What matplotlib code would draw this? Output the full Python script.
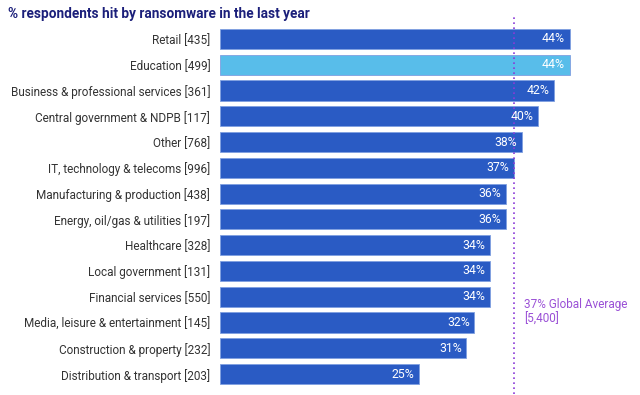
import matplotlib
matplotlib.use("Agg")
import matplotlib.pyplot as plt
from matplotlib.transforms import blended_transform_factory

plt.rcParams['font.family'] = ['Roboto', 'DejaVu Sans']

categories = ["Retail [435]", "Education [499]", "Business & professional services [361]",
              "Central government & NDPB [117]", "Other [768]", "IT, technology & telecoms [996]",
              "Manufacturing & production [438]", "Energy, oil/gas & utilities [197]",
              "Healthcare [328]", "Local government [131]", "Financial services [550]",
              "Media, leisure & entertainment [145]", "Construction & property [232]",
              "Distribution & transport [203]"]
values = [44, 44, 42, 40, 38, 37, 36, 36, 34, 34, 34, 32, 31, 25]
highlight = "Education [499]"
global_avg = 37
avg_label = "37% Global Average\n[5,400]"
title = "% respondents hit by ransomware in the last year"

W, H = 640, 395
fig = plt.figure(figsize=(W/100, H/100), dpi=100)
ax_left, ax_right = 220/W, 630/W
ax_top, ax_bot = 1 - 26/H, 1 - 387/H
ax = fig.add_axes([ax_left, ax_bot, ax_right - ax_left, ax_top - ax_bot])

dark = "#2a5bc4"
light = "#58bdea"
colors = [light if c == highlight else dark for c in categories]
y = list(range(len(categories)))
ax.barh(y, values, height=0.78, color=colors, edgecolor="#7fa0e0", linewidth=0.6)
ax.set_ylim(len(categories) - 0.5, -0.5)
ax.set_xlim(0, 410/7.95)

for yi, v in zip(y, values):
    ax.text(v - 0.6, yi, f"{v}%", ha="right", va="center", color="white", fontsize=8.8)

ax.set_yticks(y)
ax.set_yticklabels(categories, fontsize=8.5, color="#333333")
ax.tick_params(axis="y", length=0, pad=7)
ax.set_xticks([])
for s in ax.spines.values():
    s.set_visible(False)

trans = blended_transform_factory(ax.transData, ax.transAxes)
ax.plot([global_avg, global_avg], [-0.02, 1.03], transform=trans, clip_on=False,
        color="#8a3ad8", linestyle=(0, (1, 2)), linewidth=1.2)
ax.text(global_avg + 1.3, 10.6, avg_label, ha="left", va="center", color="#9a50d6",
        fontsize=8.5, linespacing=1.15)

fig.text(8/W, 1 - 14/H, title, ha="left", va="center", fontsize=9.8, fontweight="bold",
         color="#1b1f7a")

fig.savefig("out.png", dpi=100)
